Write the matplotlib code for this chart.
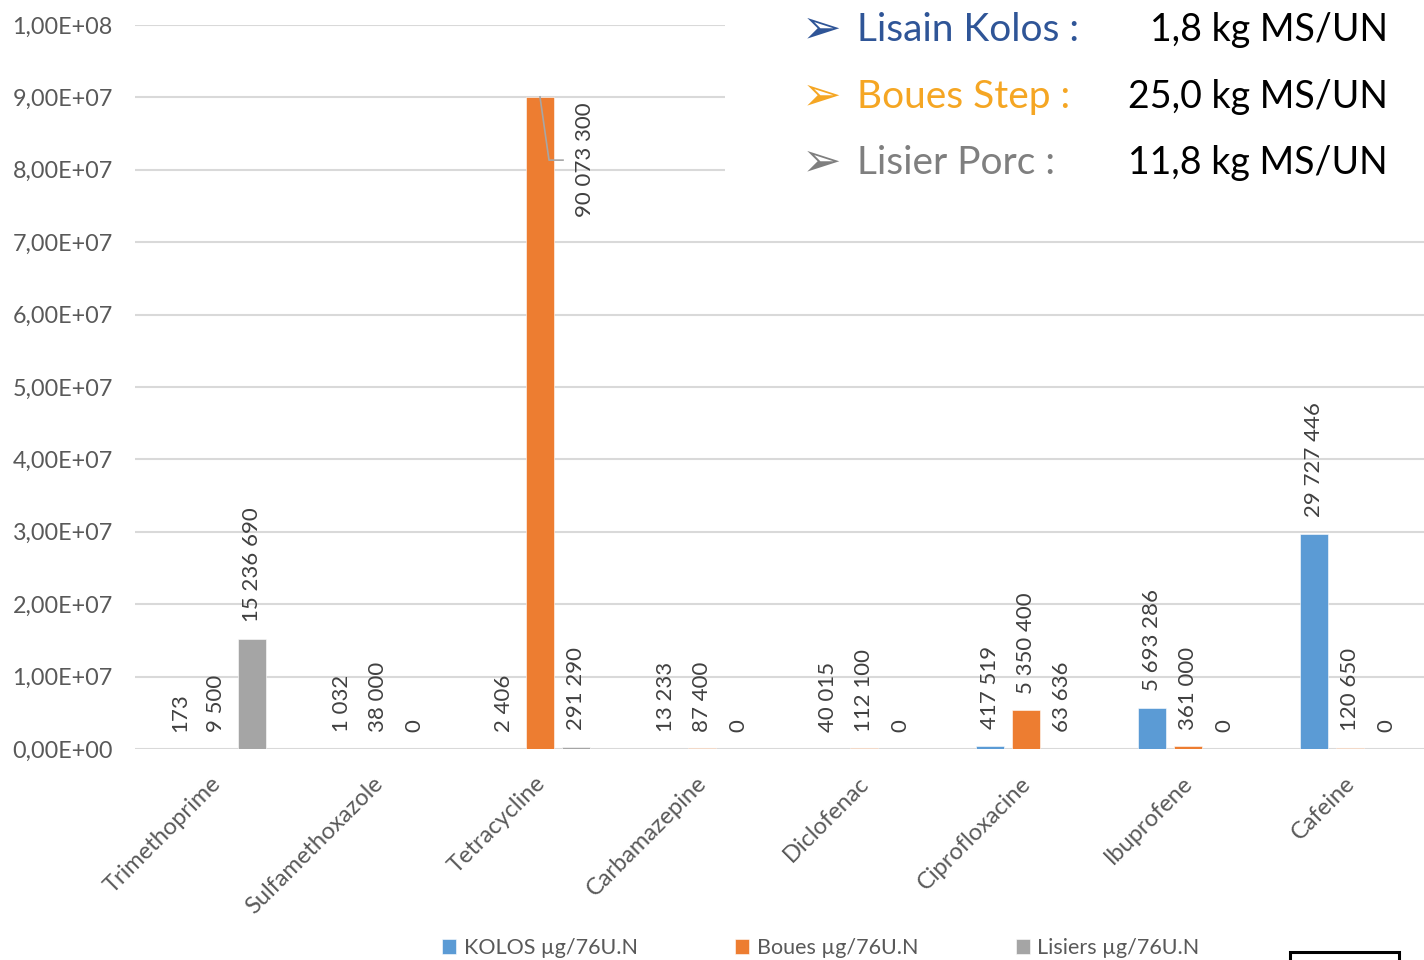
import matplotlib
matplotlib.use("Agg")
import matplotlib.pyplot as plt
import matplotlib.transforms as mtransforms
import numpy as np
from matplotlib.patches import Rectangle

categories = ["Trimethoprime", "Sulfamethoxazole", "Tetracycline", "Carbamazepine",
              "Diclofenac", "Ciprofloxacine", "Ibuprofene", "Cafeine"]
kolos = [173, 1032, 2406, 13233, 40015, 417519, 5693286, 29727446]
boues = [9500, 38000, 90073300, 87400, 112100, 5350400, 361000, 120650]
lisiers = [15236690, 0, 291290, 0, 0, 63636, 0, 0]
series_names = ["KOLOS µg/76U.N", "Boues µg/76U.N", "Lisiers µg/76U.N"]
yticks = [0, 1e7, 2e7, 3e7, 4e7, 5e7, 6e7, 7e7, 8e7, 9e7, 1e8]
ytick_labels = ["0,00E+00", "1,00E+07", "2,00E+07", "3,00E+07", "4,00E+07", "5,00E+07",
                "6,00E+07", "7,00E+07", "8,00E+07", "9,00E+07", "1,00E+08"]
info_names = ["Lisain Kolos :", "Boues Step :", "Lisier Porc :"]
info_values = ["1,8 kg MS/UN", "25,0 kg MS/UN", "11,8 kg MS/UN"]

colors = ["#5B9BD5", "#ED7D31", "#A5A5A5"]
info_colors = ["#2F5597", "#F5A623", "#7F7F7F"]
FONT = "Lato"
plt.rcParams["font.family"] = [FONT, "DejaVu Sans"]

W, H = 1424, 960
fig = plt.figure(figsize=(W / 100, H / 100), dpi=100)
ax_left, ax_right = 135 / W, 1431 / W
ax_top, ax_bot = 1 - 25 / H, 1 - 749 / H
ax = fig.add_axes([ax_left, ax_bot, ax_right - ax_left, ax_top - ax_bot])

x = np.arange(len(categories))
bw = 28 / 162
off = 36 / 162
all_series = [kolos, boues, lisiers]
containers = []
for i, (vals, c, name) in enumerate(zip(all_series, colors, series_names)):
    bc = ax.bar(x + (i - 1) * off, vals, width=bw, color=c, label=name, zorder=3,
                edgecolor="white", linewidth=0.4)
    containers.append(bc)

ax.set_xlim(-0.5, len(categories) - 0.5)
ax.set_ylim(0, 1e8)
ax.set_yticks(yticks)
ax.set_yticklabels(ytick_labels, fontsize=16.8, color="#595959")
ax.set_xticks(x)
ax.set_xticklabels(categories, rotation=45, ha="right", va="top",
                   rotation_mode="anchor", fontsize=17, color="#595959")
ax.tick_params(axis="both", length=0)
ax.tick_params(axis="x", pad=17)
ax.tick_params(axis="y", pad=16)
shift = mtransforms.ScaledTranslation(-6 / 100, 0, fig.dpi_scale_trans)
for lbl in ax.get_xticklabels():
    lbl.set_transform(lbl.get_transform() + shift)
for s in ax.spines.values():
    s.set_visible(False)
ax.grid(axis="y", color="#D9D9D9", linewidth=1.5, zorder=0)
ax.set_axisbelow(True)


def fmt(v):
    return f"{v:,}".replace(",", " ")


big_idx = int(np.argmax(boues))
for i, vals in enumerate(all_series):
    for j, v in enumerate(vals):
        xc = x[j] + (i - 1) * off
        if i == 1 and j == big_idx:
            ty = v * 0.903
            ax.plot([xc, xc + 9 / 162, xc + 23 / 162], [v, ty, ty],
                    color="#A6A6A6", lw=1.2, zorder=4)
            ax.text(xc + 45 / 162, ty, fmt(v), rotation=90, ha="center", va="center",
                    fontsize=16, color="#404040", zorder=5)
        else:
            ax.annotate(fmt(v), xy=(xc, v), xytext=(0, 12), textcoords="offset points",
                        rotation=90, ha="center", va="bottom", fontsize=16,
                        color="#404040", zorder=5)

# white info box over top right
fig.patches.append(Rectangle((725 / W, 1 - 205 / H), 1 - 725 / W, 205 / H,
                             transform=fig.transFigure, facecolor="white",
                             edgecolor="none", zorder=2))
ys = [30, 97, 163]
for name, val, col, yy in zip(info_names, info_values, info_colors, ys):
    fig.text(802 / W, 1 - yy / H, "➢", color=col, fontsize=34, ha="left", va="center",
             family=["DejaVu Sans"], zorder=3)
    fig.text(857 / W, 1 - yy / H, name, color=col, fontsize=28, ha="left", va="center",
             zorder=3)
    fig.text(1388 / W, 1 - yy / H, val, color="black", fontsize=27, ha="right",
             va="center", zorder=3)

leg = fig.legend(handles=containers, labels=series_names, loc="center",
                 bbox_to_anchor=(821 / W, 1 - 948 / H), ncol=3, frameon=False,
                 fontsize=15.5, handlelength=0.65, handleheight=0.65,
                 handletextpad=0.35, columnspacing=4.53, labelcolor="#595959")

fig.patches.append(Rectangle((1290 / W, -0.01), 109 / W, (960 - 952) / H + 0.01,
                             transform=fig.transFigure, facecolor="white",
                             edgecolor="black", linewidth=2.2, zorder=2))

fig.savefig("out.png", dpi=100)
